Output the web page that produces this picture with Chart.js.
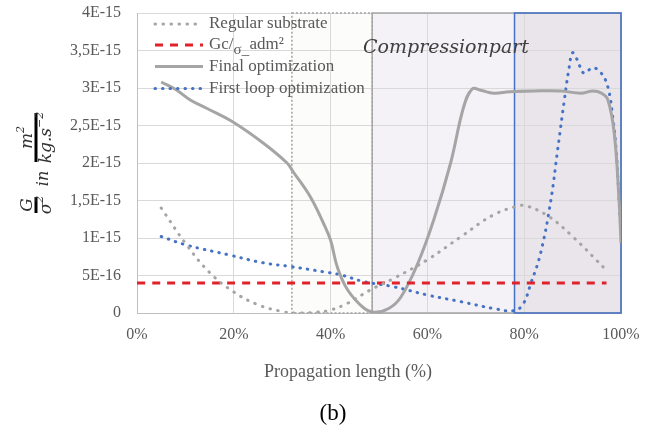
<!DOCTYPE html>
<html>
<head>
<meta charset="utf-8">
<script src="https://cdn.jsdelivr.net/npm/chart.js@4.4.1/dist/chart.umd.min.js"></script>
<style>
  html, body { margin: 0; padding: 0; background: #fff; }
  #wrap { width: 666px; height: 428px; }
</style>
</head>
<body>
<div id="wrap"><canvas id="storeChart" width="666" height="428"></canvas></div>
<script>
// values are in units of 1E-15 (m2/(kg.s-2)), x is % of propagation length
var regularX = [5, 10, 15, 20, 25, 30, 33, 37, 40, 43.5, 48, 53, 60, 67, 73.7, 79, 80.5, 85, 90, 97];
var regularY = [1.40, 0.93, 0.54, 0.28, 0.11, 0.02, 0.0, 0.01, 0.04, 0.13, 0.30, 0.46, 0.71, 1.02, 1.31, 1.43, 1.43, 1.29, 1.02, 0.57];

var gcX = [0, 97];
var gcY = [0.40, 0.40];

var finalX = [5, 8, 11, 14.4, 19.5, 26, 31, 32.3, 35.8, 38.5, 40, 41.4, 43.5, 46.8, 49, 52, 54.5, 58, 61.3, 64.8, 67.5, 69.3, 71, 73.7, 77, 82, 87.6, 91.7, 94.2, 96, 97.3, 98.6, 99.6, 100];
var finalY = [3.08, 2.98, 2.84, 2.73, 2.56, 2.27, 2.0, 1.88, 1.55, 1.2, 0.97, 0.61, 0.31, 0.07, 0.01, 0.06, 0.21, 0.66, 1.24, 2.0, 2.75, 2.99, 2.97, 2.93, 2.95, 2.96, 2.96, 2.93, 2.96, 2.93, 2.84, 2.4, 1.5, 0.93];

var firstX = [5, 10, 19.3, 26, 31.7, 38.5, 42, 46.8, 53, 60, 67, 73.7, 77.8, 79.7, 81.4, 83.4, 85.5, 86.9, 88.3, 89.3, 90, 91, 92.3, 94.2, 95.9, 97.3, 98.3, 99, 99.6, 100];
var firstY = [1.02, 0.91, 0.77, 0.67, 0.62, 0.55, 0.51, 0.42, 0.35, 0.24, 0.15, 0.06, 0.03, 0.11, 0.40, 0.80, 1.5, 2.17, 2.84, 3.28, 3.47, 3.37, 3.2, 3.27, 3.2, 3.01, 2.61, 2.17, 1.5, 1.07];

var labels = ['Regular substrate', 'Gc/σ_adm²', 'Final optimization', 'First loop optimization'];
var xTicks = [0, 20, 40, 60, 80, 100];

// zones (x in %)
var dottedZone = [32, 48.6];
var compressionZone = [48.6, 100];
var blueZone = [78, 100];

var serif = '"Liberation Serif", "Times New Roman", serif';
var mathFont = '"DejaVu Serif", serif';

function pts(xs, ys) {
    return xs.map((x, i) => ({ x: x, y: ys[i] }));
}

function fmtY(v) {
    if (Math.abs(v) < 1e-9) return '0';
    return (v * 1e-15).toExponential(1).replace('.0e', 'e').replace('.', ',').replace('e', 'E');
}

var zonesPlugin = {
    id: 'zones',
    beforeDraw: (chart) => {
        var ctx = chart.ctx, xs = chart.scales.x, ys = chart.scales.y;
        ctx.save();
        ctx.fillStyle = '#fff';
        ctx.fillRect(0, 0, chart.width, chart.height);
        var top = ys.getPixelForValue(4), bot = ys.getPixelForValue(0);
        var fill = (z, c) => {
            var a = xs.getPixelForValue(z[0]), b = xs.getPixelForValue(z[1]);
            ctx.fillStyle = c;
            ctx.fillRect(a, top, b - a, bot - top);
        };
        fill(dottedZone, '#fcfcfa');
        fill(compressionZone, '#f4f2f6');
        fill(blueZone, '#e9e5eb');
        ctx.restore();
    },
    beforeDatasetsDraw: (chart) => {
        var ctx = chart.ctx, xs = chart.scales.x, ys = chart.scales.y;
        var top = ys.getPixelForValue(4), bot = ys.getPixelForValue(0);
        var box = (z, c, w, dash) => {
            var a = xs.getPixelForValue(z[0]), b = xs.getPixelForValue(z[1]);
            ctx.save();
            ctx.strokeStyle = c;
            ctx.lineWidth = w;
            ctx.setLineDash(dash);
            ctx.strokeRect(a, top, b - a, bot - top);
            ctx.restore();
        };
        box(dottedZone, '#a0a0a0', 1.5, [2, 2]);
        box(compressionZone, '#a6a6a6', 1.5, []);
        box(blueZone, '#4472c4', 1.5, []);

        ctx.save();
        ctx.fillStyle = '#404040';
        ctx.font = 'italic 19px ' + mathFont;
        ctx.textBaseline = 'alphabetic';
        ctx.fillText('Compressionpart', 363, 53);
        ctx.restore();
    },
    afterDraw: (chart) => {
        var ctx = chart.ctx;
        ctx.save();
        // legend
        var rows = [24, 45, 66.5, 88.5];
        chart.data.datasets.forEach((ds, i) => {
            ctx.save();
            ctx.strokeStyle = ds.borderColor;
            ctx.lineWidth = ds.borderWidth;
            ctx.setLineDash(ds.borderDash || []);
            ctx.lineCap = ds.borderCapStyle || 'butt';
            ctx.beginPath();
            ctx.moveTo(155, rows[i]);
            ctx.lineTo(203, rows[i]);
            ctx.stroke();
            ctx.restore();
        });
        ctx.fillStyle = '#595959';
        ctx.font = '17px ' + serif;
        ctx.textBaseline = 'middle';
        ctx.fillText(labels[0], 209, rows[0]);
        ctx.fillText(labels[2], 209, rows[2]);
        ctx.fillText(labels[3], 209, rows[3]);
        // "Gc/σ_adm²" with lowered sigma
        var x = 209;
        ctx.fillText('Gc/', x, rows[1]);
        x += ctx.measureText('Gc/').width;
        ctx.font = '15px ' + serif;
        ctx.fillText('σ_', x, rows[1] + 5);
        x += ctx.measureText('σ_').width;
        ctx.font = '17px ' + serif;
        ctx.fillText(' adm²', x - 4, rows[1]);

        // axis titles
        ctx.textAlign = 'center';
        ctx.font = '18px ' + serif;
        ctx.fillText('Propagation length (%)', 348, 372);
        ctx.fillStyle = '#000';
        ctx.font = '23px ' + serif;
        ctx.fillText('(b)', 333, 414);

        // y title: G/σ² in m²/(kg.s⁻²), rotated
        ctx.translate(36, 220);
        ctx.rotate(-Math.PI / 2);
        ctx.strokeStyle = '#000';
        ctx.lineWidth = 3;
        ctx.beginPath();
        ctx.moveTo(7, 0); ctx.lineTo(23, 0);
        ctx.moveTo(58, 0); ctx.lineTo(107, 0);
        ctx.stroke();
        ctx.fillStyle = '#333';
        var word = (main, sup, cx, y) => {
            ctx.font = 'italic 17px ' + mathFont;
            var w1 = ctx.measureText(main).width;
            ctx.font = 'italic 11px ' + mathFont;
            var w2 = ctx.measureText(sup).width;
            var left = cx - (w1 + w2) / 2;
            ctx.textAlign = 'left';
            ctx.textBaseline = 'alphabetic';
            ctx.font = 'italic 17px ' + mathFont;
            ctx.fillText(main, left, y);
            ctx.font = 'italic 11px ' + mathFont;
            ctx.fillText(sup, left + w1, y - 8);
        };
        word('G', '', 15, -4);
        word('σ', '2', 15, 15);
        word('m', '2', 82.5, -4);
        word('kg.s', '−2', 82.5, 15);
        ctx.font = 'italic 16px ' + mathFont;
        ctx.textAlign = 'center';
        ctx.fillText('in', 41.5, 12);
        ctx.restore();
    }
};

var ctx = document.getElementById('storeChart').getContext('2d');
var myChart = new Chart(ctx, {
    type: 'line',
    data: {
        datasets: [
            {
                label: labels[0],
                data: pts(regularX, regularY),
                borderColor: '#a5a5a5',
                borderWidth: 3,
                borderDash: [0.5, 7.5],
                borderCapStyle: 'round'
            },
            {
                label: labels[1],
                data: pts(gcX, gcY),
                borderColor: '#e0222a',
                borderWidth: 3,
                borderDash: [8, 7]
            },
            {
                label: labels[2],
                data: pts(finalX, finalY),
                borderColor: '#a5a5a5',
                borderWidth: 3
            },
            {
                label: labels[3],
                data: pts(firstX, firstY),
                borderColor: '#4472c4',
                borderWidth: 3,
                borderDash: [0.5, 7],
                borderCapStyle: 'round'
            }
        ]
    },
    options: {
        responsive: false,
        animation: false,
        layout: { padding: { top: 13, right: 45, left: 0, bottom: 0 } },
        elements: {
            point: { radius: 0 },
            line: { tension: 0.4, fill: false }
        },
        plugins: {
            legend: { display: false },
            tooltip: { enabled: false }
        },
        scales: {
            x: {
                type: 'linear',
                min: 0,
                max: 100,
                afterBuildTicks: (s) => { s.ticks = xTicks.map(v => ({ value: v })); },
                afterFit: (s) => { s.height = 115; s.paddingLeft = 0; s.paddingRight = 0; },
                grid: { color: '#d9d9d9', drawTicks: false },
                border: { color: '#bfbfbf' },
                ticks: {
                    padding: 12,
                    color: '#595959',
                    font: { family: serif, size: 16 },
                    callback: (v) => v + '%'
                }
            },
            y: {
                min: 0,
                max: 4,
                afterFit: (s) => { s.width = 137; s.paddingTop = 0; s.paddingBottom = 0; },
                grid: { color: '#d9d9d9', drawTicks: false },
                border: { color: '#bfbfbf' },
                ticks: {
                    stepSize: 0.5,
                    padding: 16,
                    color: '#595959',
                    font: { family: serif, size: 16 },
                    callback: fmtY
                }
            }
        }
    },
    plugins: [zonesPlugin]
});
</script>
</body>
</html>
